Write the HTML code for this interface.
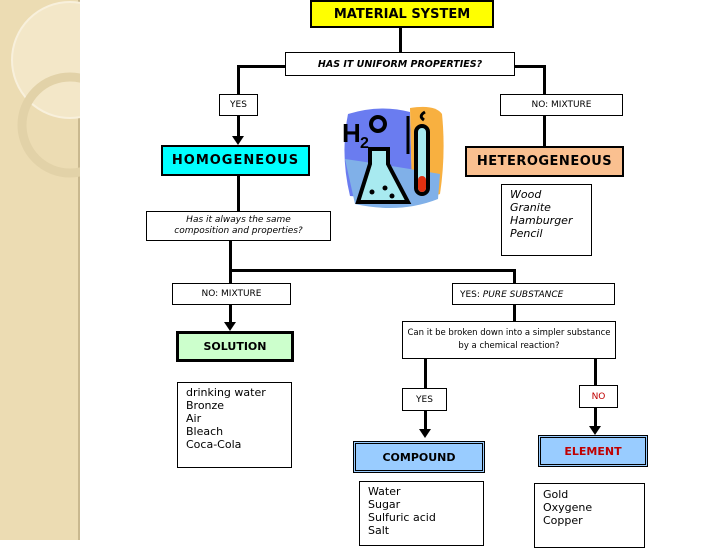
<!DOCTYPE html>
<html><head><style>
body{margin:0;width:720px;height:540px;background:#fff;position:relative;overflow:hidden;font-family:"DejaVu Sans","Liberation Sans",sans-serif;}
.b{position:absolute;border:1px solid #000;background:#fff;box-sizing:border-box;font-size:10px;}
.c{display:flex;align-items:center;justify-content:center;text-align:center;}
.l{position:absolute;background:#000;}
.ar{position:absolute;width:0;height:0;border-left:6px solid transparent;border-right:6px solid transparent;border-top:9px solid #000;}
.list{padding:3px 0 0 8px;line-height:13px;font-size:11px;}
</style></head><body>
<div style="position:absolute;left:0;top:0;width:78px;height:540px;background:#ecdcb3"></div>
<div style="position:absolute;left:78px;top:0;width:2px;height:540px;background:#c9b88f"></div>
<svg style="position:absolute;left:0;top:0" width="80" height="200"><circle cx="70" cy="60" r="58" fill="#f3e7c8" stroke="#f8f0dc" stroke-width="2"/><circle cx="70" cy="125" r="48" fill="none" stroke="#e2d2a8" stroke-width="9"/></svg>

<div class="l" style="left:399px;top:27px;width:3px;height:25px"></div>
<div class="b c" style="left:310px;top:0;width:184px;height:28px;background:#ffff00;border:2px solid #000;font-weight:bold;font-size:13px">MATERIAL SYSTEM</div>
<div class="b c" style="left:285px;top:52px;width:230px;height:24px;font-style:italic;font-weight:bold;font-size:9.5px">HAS IT UNIFORM PROPERTIES?</div>
<div class="l" style="left:237px;top:65px;width:48px;height:3px"></div>
<div class="l" style="left:237px;top:65px;width:3px;height:75px"></div>
<div class="ar" style="left:232px;top:136px"></div>
<div class="l" style="left:514px;top:65px;width:32px;height:3px"></div>
<div class="l" style="left:543px;top:65px;width:3px;height:82px"></div>
<div class="b c" style="left:219px;top:94px;width:39px;height:22px;font-size:9px">YES</div>
<div class="b c" style="left:500px;top:94px;width:123px;height:22px;font-size:9px">NO: MIXTURE</div>
<div class="b c" style="left:161px;top:145px;width:149px;height:31px;background:#00ffff;border:2px solid #000;font-weight:bold;font-size:13px;letter-spacing:1px">HOMOGENEOUS</div>
<div class="b c" style="left:465px;top:146px;width:159px;height:31px;background:#fac090;border:2px solid #000;font-weight:bold;font-size:13px;letter-spacing:0.5px">HETEROGENEOUS</div>
<div class="b list" style="left:501px;top:184px;width:91px;height:72px;font-style:italic">Wood<br>Granite<br>Hamburger<br>Pencil</div>
<div class="l" style="left:237px;top:176px;width:3px;height:36px"></div>
<div class="b c" style="left:146px;top:211px;width:185px;height:30px;font-style:italic;font-size:9px;line-height:11px">Has it always the same<br>composition and properties?</div>
<div class="l" style="left:229px;top:240px;width:3px;height:44px"></div>
<div class="l" style="left:229px;top:269px;width:287px;height:3px"></div>
<div class="l" style="left:513px;top:269px;width:3px;height:53px"></div>
<div class="b c" style="left:172px;top:283px;width:119px;height:22px;font-size:9px">NO: MIXTURE</div>
<div class="b" style="left:452px;top:283px;width:163px;height:22px;font-size:9px;padding:6px 0 0 7px">YES: <i>PURE SUBSTANCE</i></div>
<div class="l" style="left:229px;top:304px;width:3px;height:20px"></div>
<div class="ar" style="left:224px;top:322px"></div>
<div class="b c" style="left:176px;top:331px;width:118px;height:31px;background:#ccffcc;border:3px solid #000;font-weight:bold;font-size:11px">SOLUTION</div>
<div class="b list" style="left:177px;top:382px;width:115px;height:86px">drinking water<br>Bronze<br>Air<br>Bleach<br>Coca-Cola</div>
<div class="b c" style="left:402px;top:321px;width:214px;height:38px;font-size:8.5px;line-height:13px">Can it be broken down into a simpler substance<br>by a chemical reaction?</div>
<div class="l" style="left:424px;top:358px;width:3px;height:72px"></div>
<div class="ar" style="left:419px;top:429px"></div>
<div class="l" style="left:594px;top:358px;width:3px;height:70px"></div>
<div class="ar" style="left:589px;top:426px"></div>
<div class="b c" style="left:402px;top:388px;width:45px;height:23px;font-size:9px">YES</div>
<div class="b c" style="left:579px;top:385px;width:39px;height:23px;font-size:9px;color:#c00000">NO</div>
<div class="b c" style="left:353px;top:441px;width:132px;height:32px;background:#99ccff;border:3px double #000;font-weight:bold;font-size:11px">COMPOUND</div>
<div class="b c" style="left:538px;top:435px;width:110px;height:32px;background:#99ccff;border:3px double #000;font-weight:bold;font-size:11px;color:#c00000">ELEMENT</div>
<div class="b list" style="left:359px;top:481px;width:125px;height:65px">Water<br>Sugar<br>Sulfuric acid<br>Salt</div>
<div class="b list" style="left:534px;top:483px;width:111px;height:65px;padding-top:4px">Gold<br>Oxygene<br>Copper</div>
<svg style="position:absolute;left:340px;top:104px" width="106" height="108" viewBox="0 0 106 108">
<path d="M8 10 Q40 0 70 8 L72 80 Q40 95 10 92 Q0 50 8 10Z" fill="#6a7cf0"/>
<path d="M70 4 Q95 0 102 10 Q106 50 100 90 Q85 96 72 90Z" fill="#f8b040"/>
<path d="M5 55 Q40 60 100 70 L98 95 Q60 110 15 100Z" fill="#80b0e8"/>
<path d="M30 45 L48 45 L48 60 L68 98 L18 98 L30 60Z" fill="#a8eaf0" stroke="#000" stroke-width="4"/>
<circle cx="32" cy="88" r="2.5" fill="#000"/><circle cx="45" cy="84" r="2.5" fill="#000"/><circle cx="52" cy="92" r="2.5" fill="#000"/>
<circle cx="38" cy="20" r="7" fill="none" stroke="#000" stroke-width="4"/>
<text x="2" y="38" font-size="26" font-weight="bold" font-family="Liberation Sans">H</text>
<text x="20" y="44" font-size="16" font-weight="bold" font-family="Liberation Sans">2</text>
<rect x="76" y="22" width="12" height="68" rx="6" fill="#a8eaf0" stroke="#000" stroke-width="4"/>
<rect x="78" y="72" width="8" height="16" rx="4" fill="#e03010"/>
<path d="M85 8 Q78 12 84 16" fill="none" stroke="#000" stroke-width="3"/>
<line x1="68" y1="12" x2="68" y2="50" stroke="#000" stroke-width="3"/>
</svg>
</body></html>
